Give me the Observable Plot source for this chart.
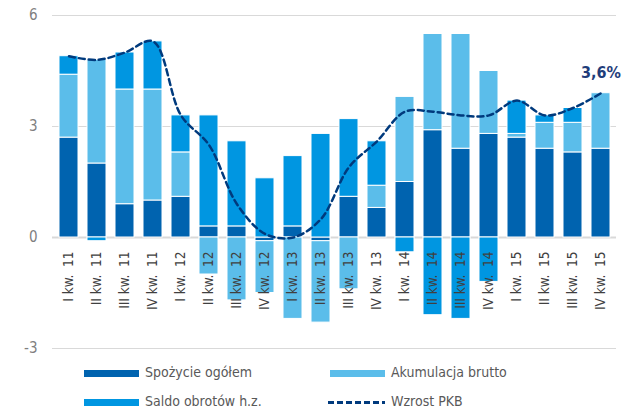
<!DOCTYPE html>
<html>
<head>
<meta charset="utf-8">
<script src="https://cdn.jsdelivr.net/npm/d3@7"></script>
<script src="https://cdn.jsdelivr.net/npm/@observablehq/plot@0.6"></script>
<style>
  html, body { margin: 0; padding: 0; background: #fff; }
  #wrap { position: relative; width: 624px; height: 413px; overflow: hidden; font-family: "DejaVu Sans Condensed", "DejaVu Sans", sans-serif; }
  #chart { position: absolute; left: 0; top: 0; }
  .lg { position: absolute; font-size: 14px; color: #595959; line-height: 18px; white-space: nowrap; }
  .sw { position: absolute; height: 7px; width: 55px; }
</style>
</head>
<body>
<div id="wrap">
  <div id="chart"></div>
</div>
<script>
const quarters = ["I kw.\u00a0 11","II kw.\u00a0 11","III kw.\u00a0 11","IV kw.\u00a0 11",
  "I kw.\u00a0 12","II kw.\u00a0 12","III kw.\u00a0 12","IV kw.\u00a0 12",
  "I kw.\u00a0 13","II kw.\u00a0 13","III kw.\u00a0 13","IV kw.\u00a0 13",
  "I kw.\u00a0 14","II kw.\u00a0 14","III kw.\u00a0 14","IV kw.\u00a0 14",
  "I kw.\u00a0 15","II kw.\u00a0 15","III kw.\u00a0 15","IV kw.\u00a0 15"];
const spozycie    = [2.7, 2.0, 0.9, 1.0, 1.1, 0.3, 0.3, -0.1, 0.3, -0.1, 1.1, 0.8, 1.5, 2.9, 2.4, 2.8, 2.7, 2.4, 2.3, 2.4];
const akumulacja  = [1.7, 2.8, 3.1, 3.0, 1.2, -1.0, -1.7, -1.4, -2.2, -2.2, -1.4, 0.6, 2.3, 2.6, 3.1, 1.7, 0.1, 0.7, 0.8, 1.5];
const saldo       = [0.5, -0.1, 1.0, 1.3, 1.0, 3.0, 2.3, 1.6, 1.9, 2.8, 2.1, 1.2, -0.4, -2.1, -2.2, -1.2, 0.9, 0.2, 0.4, 0.0];
const pkb         = [4.9, 4.8, 5.0, 5.3, 3.3, 2.5, 0.9, 0.1, 0.0, 0.5, 1.9, 2.6, 3.4, 3.4, 3.3, 3.3, 3.7, 3.3, 3.5, 3.9];
const seriesNames = ["Spożycie ogółem", "Akumulacja brutto", "Saldo obrotów h.z.", "Wzrost PKB"];
const yTicks = [-3, 0, 3, 6];
const lastLabel = "3,6%";

const colors = { "Spożycie ogółem": "#0063AF", "Akumulacja brutto": "#5BBDEA", "Saldo obrotów h.z.": "#0096E1" };
const lineColor = "#003A7D";

const rows = [];
[spozycie, akumulacja, saldo].forEach((arr, si) => {
  arr.forEach((v, i) => rows.push({ q: quarters[i], series: seriesNames[si], order: si, value: v }));
});
const lineData = pkb.map((v, i) => ({ q: quarters[i], value: v }));

const chart = Plot.plot({
  width: 624,
  height: 358,
  marginLeft: 52,
  marginRight: 8,
  marginTop: 15,
  marginBottom: 10,
  style: { fontFamily: "'DejaVu Sans Condensed', 'DejaVu Sans', sans-serif", background: "white" },
  x: { type: "band", domain: quarters, paddingInner: 0.33, paddingOuter: 0.165, axis: null, label: null },
  y: { domain: [-3, 6], axis: null, label: null },
  color: { domain: Object.keys(colors), range: Object.values(colors) },
  marks: [
    Plot.ruleY(yTicks.filter(t => t !== 0), { stroke: "#d9d9d9", strokeWidth: 1 }),
    Plot.ruleY([0], { stroke: "#d9d9d9", strokeWidth: 2 }),
    Plot.axisY({ ticks: yTicks, label: null, tickSize: 0, tickPadding: 15, fontSize: 15, color: "#7f7f7f", tickFormat: d => d < 0 ? "-" + Math.abs(d) : String(d) }),
    Plot.barY(rows, Plot.stackY({ order: "order", x: "q", y: "value", fill: "series", z: "series", stroke: "white", strokeWidth: 1 })),
    Plot.line(lineData, { x: "q", y: "value", stroke: lineColor, strokeWidth: 2.5, strokeDasharray: "6,4", curve: "catmull-rom" }),
    Plot.text(quarters, { x: d => d, y: () => 0, text: d => d, rotate: -90, textAnchor: "end", dy: 14, fontSize: 13.5, fill: "#404040" }),
    Plot.text([lineData[lineData.length - 1]], { x: "q", y: "value", text: () => lastLabel, dy: -20, fontSize: 16, fontWeight: "bold", fill: "#1F3D7A" })
  ]
});
document.getElementById("chart").appendChild(chart);

// Legend
const wrap = document.getElementById("wrap");
const legendItems = [
  { name: seriesNames[0], type: "bar", color: colors[seriesNames[0]], sx: 84, tx: 145, y: 373 },
  { name: seriesNames[1], type: "bar", color: colors[seriesNames[1]], sx: 330, tx: 391, y: 373 },
  { name: seriesNames[2], type: "bar", color: colors[seriesNames[2]], sx: 84, tx: 145, y: 402 },
  { name: seriesNames[3], type: "line", color: lineColor, sx: 328, tx: 391, y: 402 }
];
legendItems.forEach(it => {
  const sw = document.createElement("div");
  if (it.type === "bar") {
    sw.className = "sw";
    sw.style.left = it.sx + "px";
    sw.style.top = (it.y - 3.5) + "px";
    sw.style.background = it.color;
  } else {
    sw.style.position = "absolute";
    sw.style.left = it.sx + "px";
    sw.style.top = (it.y - 1.5) + "px";
    sw.style.width = "57px";
    sw.style.height = "3px";
    sw.style.background = `repeating-linear-gradient(to right, ${it.color} 0 6px, transparent 6px 9px)`;
  }
  wrap.appendChild(sw);
  const t = document.createElement("div");
  t.className = "lg";
  t.textContent = it.name;
  t.style.left = it.tx + "px";
  t.style.top = (it.y - 10) + "px";
  wrap.appendChild(t);
});
</script>
</body>
</html>
